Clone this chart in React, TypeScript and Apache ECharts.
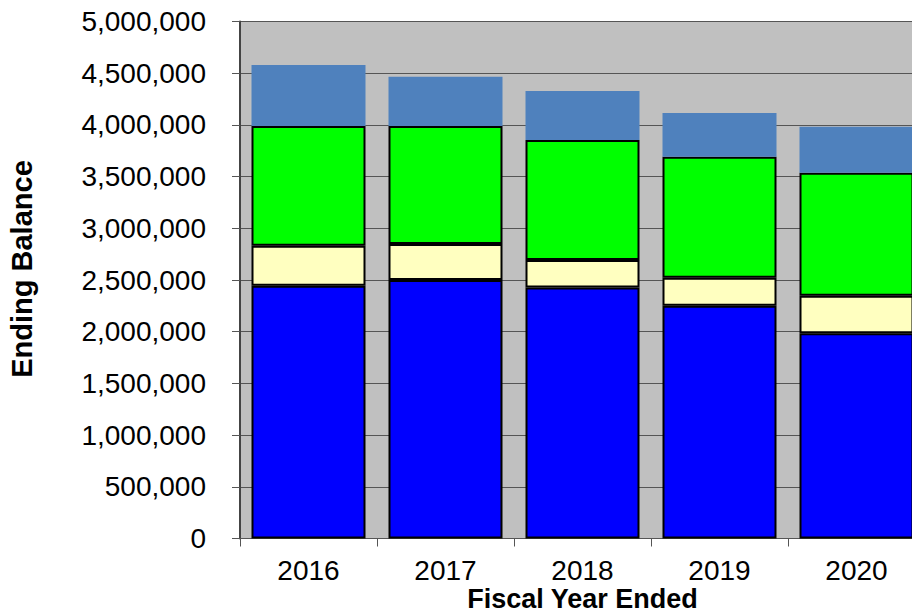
import React, { useEffect, useRef } from "react";
import * as echarts from "echarts";

const years = ["2016", "2017", "2018", "2019", "2020"];
const blueValues = [2445000, 2500000, 2427000, 2251000, 1985000];
const yellowValues = [387000, 348000, 266000, 271000, 363000];
const greenValues = [1158000, 1142000, 1161000, 1170000, 1190000];
const steelValues = [589000, 476000, 474000, 423000, 445000];
const yMin = 0;
const yMax = 5000000;
const yInterval = 500000;
const yTitle = "Ending Balance";
const xTitle = "Fiscal Year Ended";

const FONT = "'Liberation Sans', Arial, sans-serif";

export default function App() {
  const ref = useRef<HTMLDivElement>(null);
  useEffect(() => {
    if (!ref.current) return;
    const chart = echarts.init(ref.current, undefined, { renderer: "svg" });
    const bordered = (color: string) => ({
      color,
      borderColor: "#000",
      borderWidth: 2,
    });
    chart.setOption({
      animation: false,
      backgroundColor: "#fff",
      grid: {
        left: 240,
        top: 21.5,
        width: 685,
        height: 517,
        show: true,
        backgroundColor: "#C0C0C0",
        borderWidth: 0,
        containLabel: false,
        outerBoundsMode: "none",
      },
      xAxis: {
        type: "category",
        data: years,
        boundaryGap: true,
        name: xTitle,
        nameLocation: "middle",
        nameGap: 47.5,
        nameMoveOverlap: false,
        nameTextStyle: { fontFamily: FONT, fontSize: 27, lineHeight: 26, fontWeight: "bold", color: "#000" },
        axisLine: { show: true, lineStyle: { color: "#555", width: 1 } },
        axisTick: { show: true, length: 8, alignWithLabel: false, lineStyle: { color: "#555" } },
        axisLabel: { fontFamily: FONT, fontSize: 28, lineHeight: 26, color: "#000", margin: 19 },
        splitLine: { show: false },
      },
      yAxis: {
        type: "value",
        min: yMin,
        max: yMax,
        interval: yInterval,
        axisLine: { show: true, lineStyle: { color: "#444", width: 2 } },
        axisTick: { show: true, length: 8, lineStyle: { color: "#555" } },
        axisLabel: {
          fontFamily: FONT,
          fontSize: 28,
          color: "#000",
          margin: 34,
          formatter: (v: number) => v.toLocaleString("en-US"),
        },
        splitLine: { show: true, lineStyle: { color: "#555", width: 1 } },
      },
      graphic: [
        {
          type: "text",
          x: 22,
          y: 269,
          rotation: Math.PI / 2,
          style: {
            text: yTitle,
            font: `bold 29px ${FONT}`,
            fill: "#000",
            textAlign: "center",
            textVerticalAlign: "middle",
          },
        },
      ],
      series: [
        { name: "A", type: "bar", stack: "t", barWidth: 114, data: blueValues, itemStyle: bordered("#0000FF") },
        { name: "B", type: "bar", stack: "t", barWidth: 114, data: yellowValues, itemStyle: bordered("#FFFFC0") },
        { name: "C", type: "bar", stack: "t", barWidth: 114, data: greenValues, itemStyle: bordered("#00FF00") },
        { name: "D", type: "bar", stack: "t", barWidth: 114, data: steelValues, itemStyle: { color: "#4F81BD", borderWidth: 0 } },
      ],
    });
    return () => chart.dispose();
  }, []);
  return (
    <div
      ref={ref}
      style={{ position: "fixed", left: 0, top: 0, width: 912, height: 613, overflow: "hidden" }}
    />
  );
}
